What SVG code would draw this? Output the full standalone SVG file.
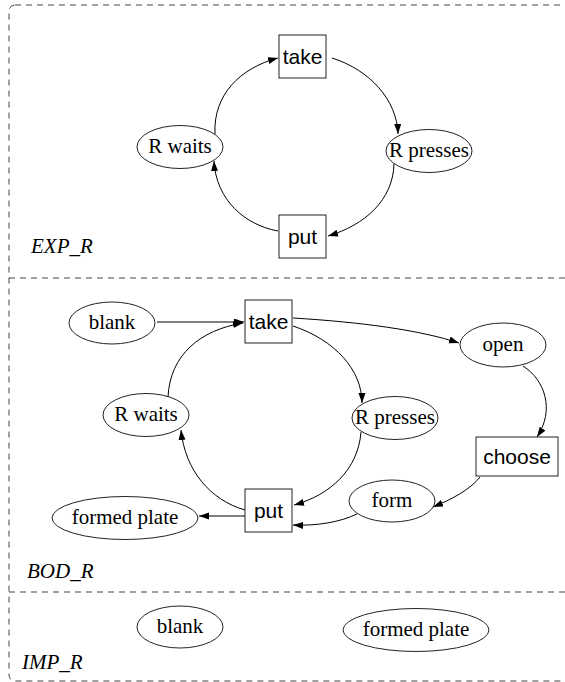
<svg xmlns="http://www.w3.org/2000/svg" width="565" height="682" viewBox="0 0 565 682">
  <style>
    .frame { fill: none; stroke: #444; stroke-width: 1; stroke-dasharray: 6 5; }
    .box { fill: #fff; stroke: #222; stroke-width: 1; }
    .oval { fill: #fff; stroke: #222; stroke-width: 1; }
    .sans { font-family: "Liberation Sans", Arial, sans-serif; font-size: 21px; fill: #000; text-anchor: middle; }
    .serif { font-family: "Liberation Serif", "Times New Roman", serif; font-size: 21px; fill: #000; text-anchor: middle; }
    .lbl { font-family: "Liberation Serif", "Times New Roman", serif; font-size: 21px; font-style: italic; fill: #000; }
    .edge { fill: none; stroke: #000; stroke-width: 1; marker-end: url(#arrow); }
  </style>
  <defs>
    <marker id="arrow" markerUnits="userSpaceOnUse" markerWidth="11" markerHeight="8" refX="10" refY="3.5" orient="auto">
      <path d="M0,0 L10,3.5 L0,7 z" fill="#000"/>
    </marker>
  </defs>

  <rect width="565" height="682" fill="#fff"/>

  <!-- dashed frame split into three layers -->
  <g id="frame">
    <rect class="frame" x="9" y="5" width="620" height="676" rx="6"/>
    <line class="frame" x1="9" y1="278" x2="565" y2="278"/>
    <line class="frame" x1="9" y1="592" x2="565" y2="592"/>
  </g>

  <g id="labels">
    <text class="lbl" x="31" y="253">EXP_R</text>
    <text class="lbl" x="27" y="578">BOD_R</text>
    <text class="lbl" x="22" y="669">IMP_R</text>
  </g>

  <g id="connectors">
    <!-- EXP_R cycle -->
    <path class="edge" d="M215,134 C213,95 240,68 278,58"/>
    <path class="edge" d="M332,58 C370,70 397,100 398,134"/>
    <path class="edge" d="M394,164 C393,200 365,225 328,236"/>
    <path class="edge" d="M278,231 C245,225 216,200 214,161"/>
    <!-- BOD_R -->
    <path class="edge" d="M157,322 L244,322"/>
    <path class="edge" d="M168,397 C170,355 200,330 243,323"/>
    <path class="edge" d="M293,318 C360,322 420,330 459,343"/>
    <path class="edge" d="M293,326 C335,340 362,370 362,403"/>
    <path class="edge" d="M523,366 C545,380 555,410 537,437"/>
    <path class="edge" d="M480,477 C470,490 450,500 433,507"/>
    <path class="edge" d="M361,432 C358,470 330,495 294,505"/>
    <path class="edge" d="M357,514 C340,522 318,526 293,525"/>
    <path class="edge" d="M245,516 L199,516"/>
    <path class="edge" d="M245,510 C210,500 185,470 181,430"/>
  </g>

  <!-- EXP_R nodes -->
  <g id="exp-take">
    <rect class="box" x="279" y="35" width="47" height="43"/>
    <text class="sans" x="302.5" y="64">take</text>
  </g>
  <g id="exp-r-waits">
    <ellipse class="oval" cx="180" cy="147" rx="43" ry="21.5"/>
    <text class="serif" x="180" y="153">R waits</text>
  </g>
  <g id="exp-r-presses">
    <ellipse class="oval" cx="429" cy="151" rx="43" ry="21.5"/>
    <text class="serif" x="429" y="157">R presses</text>
  </g>
  <g id="exp-put">
    <rect class="box" x="279" y="215" width="47" height="43"/>
    <text class="sans" x="302.5" y="244">put</text>
  </g>

  <!-- BOD_R nodes -->
  <g id="bod-blank">
    <ellipse class="oval" cx="112" cy="323" rx="43" ry="21"/>
    <text class="serif" x="112" y="329">blank</text>
  </g>
  <g id="bod-take">
    <rect class="box" x="245" y="300" width="47" height="43"/>
    <text class="sans" x="268.5" y="329">take</text>
  </g>
  <g id="bod-open">
    <ellipse class="oval" cx="503" cy="345" rx="43" ry="22"/>
    <text class="serif" x="503" y="351">open</text>
  </g>
  <g id="bod-r-waits">
    <ellipse class="oval" cx="146" cy="415" rx="43" ry="21.5"/>
    <text class="serif" x="146" y="421">R waits</text>
  </g>
  <g id="bod-r-presses">
    <ellipse class="oval" cx="395" cy="418" rx="43" ry="21.5"/>
    <text class="serif" x="395" y="424">R presses</text>
  </g>
  <g id="bod-choose">
    <rect class="box" x="476" y="437" width="82" height="39"/>
    <text class="sans" x="517" y="464">choose</text>
  </g>
  <g id="bod-form">
    <ellipse class="oval" cx="392" cy="501" rx="43" ry="21"/>
    <text class="serif" x="392" y="507">form</text>
  </g>
  <g id="bod-put">
    <rect class="box" x="245" y="489" width="47" height="43"/>
    <text class="sans" x="268.5" y="518">put</text>
  </g>
  <g id="bod-formed-plate">
    <ellipse class="oval" cx="125" cy="518" rx="73" ry="21.5"/>
    <text class="serif" x="125" y="524">formed plate</text>
  </g>

  <!-- IMP_R nodes -->
  <g id="imp-blank">
    <ellipse class="oval" cx="180" cy="627" rx="43" ry="21"/>
    <text class="serif" x="180" y="633">blank</text>
  </g>
  <g id="imp-formed-plate">
    <ellipse class="oval" cx="416" cy="630" rx="73" ry="21.5"/>
    <text class="serif" x="416" y="636">formed plate</text>
  </g>
</svg>
